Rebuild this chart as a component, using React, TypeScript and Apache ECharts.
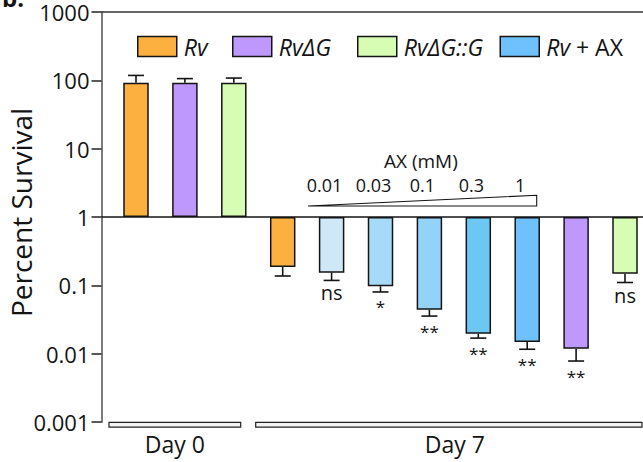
import React, { useEffect, useRef } from "react";
import * as echarts from "echarts";

// ---------------- data ----------------
const strains = ["Rv", "RvΔG", "RvΔG::G", "Rv + AX"];
const barStrain = ["Rv", "RvΔG", "RvΔG::G", "Rv", "Rv + AX", "Rv + AX", "Rv + AX", "Rv + AX", "Rv + AX", "RvΔG", "RvΔG::G"];
const barDay = ["Day 0", "Day 0", "Day 0", "Day 7", "Day 7", "Day 7", "Day 7", "Day 7", "Day 7", "Day 7", "Day 7"];
const axDose = ["", "", "", "", "0.01", "0.03", "0.1", "0.3", "1", "", ""];
const survival = [92, 92, 92, 0.185, 0.153, 0.097, 0.044, 0.0196, 0.0148, 0.0118, 0.148];
const errorLimit = [118, 106, 108, 0.137, 0.118, 0.08, 0.0355, 0.0169, 0.0116, 0.0078, 0.11];
const significance = ["", "", "", "", "ns", "*", "**", "**", "**", "**", "ns"];
const yTickLabels = ["0.001", "0.01", "0.1", "1", "10", "100", "1000"];
const doseTitle = "AX (mM)";
const yTitle = "Percent Survival";
const panelLabel = "b.";

// ---------------- styles ----------------
const FONT = "'Open Sans', 'Noto Sans', sans-serif";
const INK = "#141414";
const strainColors: Record<string, string> = {
  Rv: "#FBB040",
  "RvΔG": "#BE98FC",
  "RvΔG::G": "#D6FDB3",
  "Rv + AX": "#6EC1FC",
};
const doseShades = ["#CFE8F8", "#A7DAF8", "#93D3FA", "#6DC7F3", "#6EC1FC"];
const legendLeft = [137, 232, 357, 499.5];

export default function App() {
  const ref = useRef<HTMLDivElement>(null);

  useEffect(() => {
    document.body.style.margin = "0";
    if (!ref.current) return;
    const chart = echarts.init(ref.current, null, { renderer: "svg" });

    const doseIdx = axDose.map((d, i) => (d ? i : -1)).filter((i) => i >= 0);
    const shadeFor = (i: number) => {
      const k = doseIdx.indexOf(i);
      return k >= 0 ? doseShades[k] : strainColors[barStrain[i]];
    };

    // day groups from barDay
    const days: { label: string; first: number; last: number }[] = [];
    barDay.forEach((d, i) => {
      const g = days.find((x) => x.label === d);
      if (g) g.last = i;
      else days.push({ label: d, first: i, last: i });
    });

    const barSeries = strains.map((s, si) => ({
      type: "bar",
      name: s,
      barWidth: 25.5,
      barGap: "-100%",
      silent: true,
      emphasis: { disabled: true },
      itemStyle: { color: strainColors[s], borderColor: INK, borderWidth: 1.5 },
      data: barStrain
        .map((b, i) => (b === s ? { value: [i, survival[i]], itemStyle: { color: shadeFor(i) } } : null))
        .filter(Boolean),
      markLine:
        si === 0
          ? {
              silent: true,
              symbol: ["none", "none"],
              label: { show: false },
              data: [
                { yAxis: 1, lineStyle: { color: INK, width: 1.5, type: "solid" } },
                { yAxis: 1000, lineStyle: { color: "#333", width: 1.5, type: "solid" } },
              ],
            }
          : undefined,
    }));

    const errorSeries = {
      type: "custom",
      coordinateSystem: "cartesian2d",
      silent: true,
      z: 3,
      data: survival.map((v, i) => [i, v, errorLimit[i]]),
      encode: { x: 0, y: [1, 2] },
      renderItem: (params: any, api: any) => {
        const i = params.dataIndex;
        const x = api.value(0);
        const p1 = api.coord([x, api.value(1)]);
        const p2 = api.coord([x, api.value(2)]);
        const half = 8;
        const st = { stroke: INK, lineWidth: 1.6 };
        const children: any[] = [
          { type: "line", shape: { x1: p1[0], y1: p1[1], x2: p2[0], y2: p2[1] }, style: st },
          { type: "line", shape: { x1: p2[0] - half, y1: p2[1], x2: p2[0] + half, y2: p2[1] }, style: st },
        ];
        const sig = significance[i];
        if (sig) {
          const star = sig.indexOf("*") >= 0;
          children.push({
            type: "text",
            x: p2[0],
            y: p2[1] + (star ? 15 : 12.5),
            style: {
              text: sig,
              align: "center",
              verticalAlign: "middle",
              fontSize: star ? 17 : 20,
              fontFamily: FONT,
              fill: INK,
            },
          });
        }
        return { type: "group", children };
      },
    };

    const doseLabelSeries = {
      type: "custom",
      coordinateSystem: "cartesian2d",
      silent: true,
      data: doseIdx.map((i) => [i, 1]),
      encode: { x: 0, y: 1 },
      renderItem: (params: any, api: any) => {
        const p = api.coord([api.value(0), api.value(1)]);
        const i = doseIdx[params.dataIndex];
        return {
          type: "text",
          x: p[0] - 7,
          y: p[1] - 32.3,
          style: { text: axDose[i], align: "center", verticalAlign: "middle", fontSize: 18, fontFamily: FONT, fill: INK },
        };
      },
    };

    const doseWedgeSeries = {
      type: "custom",
      coordinateSystem: "cartesian2d",
      silent: true,
      data: [[doseIdx[0], 1, doseIdx[doseIdx.length - 1]]],
      encode: { x: [0, 2], y: 1 },
      renderItem: (params: any, api: any) => {
        const a = api.coord([api.value(0), api.value(1)]);
        const b = api.coord([api.value(2), api.value(1)]);
        const left = a[0] - 23.5;
        const right = b[0] + 9.5;
        const yb = a[1] - 11;
        const yt = a[1] - 21.7;
        return {
          type: "group",
          children: [
            {
              type: "polygon",
              shape: { points: [[left, yb], [right, yt], [right, yb]] },
              style: { fill: "#fff", stroke: INK, lineWidth: 1.1 },
            },
            {
              type: "text",
              x: (left + right) / 2 - 1.5,
              y: a[1] - 56,
              style: { text: doseTitle, align: "center", verticalAlign: "middle", fontSize: 19, fontFamily: FONT, fill: INK },
            },
          ],
        };
      },
    };

    const daySeries = {
      type: "custom",
      coordinateSystem: "cartesian2d",
      silent: true,
      clip: false,
      data: days.map((d) => [d.first, 1, d.last]),
      encode: { x: [0, 2], y: 1 },
      renderItem: (params: any, api: any) => {
        const k = params.dataIndex;
        const cs = params.coordSys;
        const d = days[k];
        const left = api.coord([d.first, 1])[0] - 27;
        const next = days[k + 1];
        const right = next ? api.coord([next.first, 1])[0] - 27 - 15 : cs.x + cs.width - 1;
        const top = cs.y + cs.height + 0.4;
        return {
          type: "group",
          children: [
            {
              type: "rect",
              shape: { x: left, y: top, width: right - left, height: 4.8 },
              style: { fill: "#f3f3f3", stroke: "#222", lineWidth: 1.2 },
            },
            {
              type: "text",
              x: (left + right) / 2 + (next ? 0 : 6),
              y: top + 21.5,
              style: { text: d.label, align: "center", verticalAlign: "middle", fontSize: 23, fontFamily: FONT, fill: INK },
            },
          ],
        };
      },
    };

    const legends = strains.map((s, k) => ({
      data: [s],
      left: legendLeft[k],
      top: 35,
      padding: 0,
      icon: "rect",
      itemWidth: 39,
      itemHeight: 20,
      selectedMode: false,
      itemStyle: { borderColor: INK, borderWidth: 1.5 },
      formatter: (name: string) => (name === "Rv + AX" ? "{i|Rv} + AX" : `{i|${name}}`),
      textStyle: {
        fontSize: 23,
        fontFamily: FONT,
        color: INK,
        padding: [0, 0, 0, 2],
        rich: { i: { fontStyle: "italic", fontSize: 23, fontFamily: FONT, color: INK } },
      },
    }));

    chart.setOption({
      animation: false,
      grid: { left: 101.5, right: 0, top: 12, bottom: 40, containLabel: false, outerBoundsMode: "none" },
      legend: legends,
      xAxis: { type: "value", min: -0.7055, max: 10.368, show: false },
      yAxis: {
        type: "log",
        logBase: 10,
        min: 0.001,
        max: 1000,
        splitNumber: 6,
        name: yTitle,
        nameLocation: "middle",
        nameGap: 67,
        nameMoveOverlap: false,
        nameTextStyle: { fontSize: 28, fontFamily: FONT, color: INK, padding: [0, 0, 0, 9] },
        axisLine: { show: true, onZero: false, lineStyle: { color: "#6e6e6e", width: 1.8 } },
        axisTick: { show: true, length: 10, lineStyle: { color: "#222", width: 1.5 } },
        minorTick: { show: false },
        splitLine: { show: false },
        axisLabel: {
          fontSize: 22,
          fontFamily: FONT,
          color: INK,
          margin: 12,
          padding: [4, 0, 0, 0],
          formatter: (v: number) => yTickLabels[Math.round(Math.log10(v)) + 3],
        },
      },
      graphic: [
        {
          type: "text",
          left: 2,
          top: -15,
          style: { text: panelLabel, fontSize: 24, fontWeight: "bold", fontFamily: FONT, fill: INK },
        },
      ],
      series: [...barSeries, errorSeries, doseLabelSeries, doseWedgeSeries, daySeries],
    });

    return () => chart.dispose();
  }, []);

  return <div ref={ref} style={{ position: "absolute", left: 0, top: 0, width: 643, height: 462 }} />;
}
